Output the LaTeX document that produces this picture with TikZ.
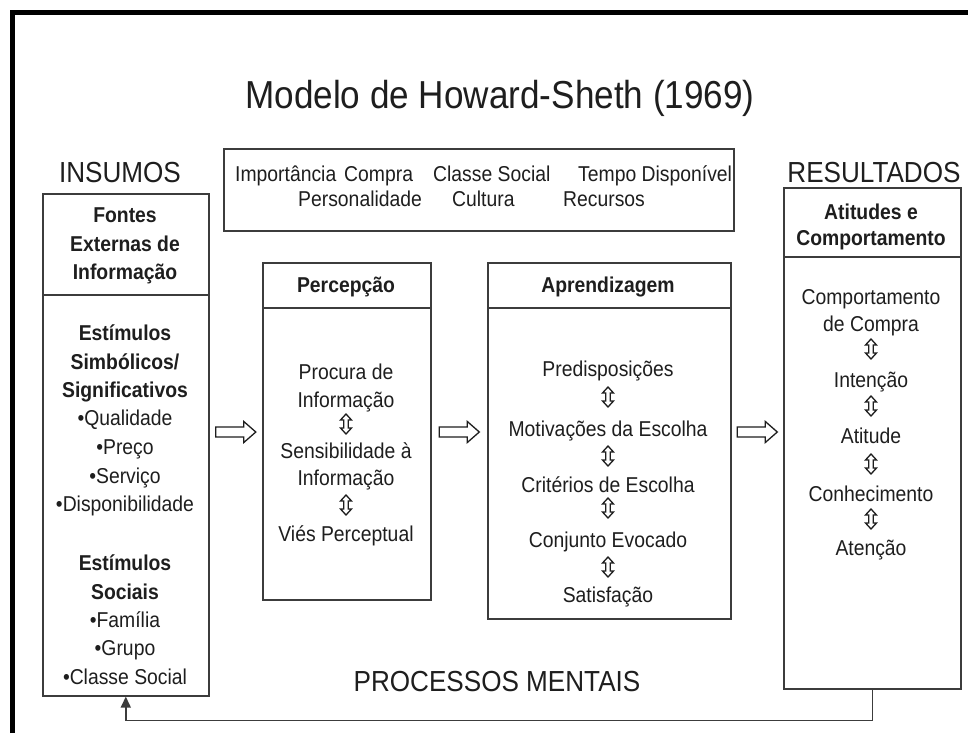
\documentclass[tikz,border=0pt]{standalone}
\usepackage{fontspec}
\setmainfont{Liberation Sans}[FakeStretch=0.9]
\usetikzlibrary{arrows.meta,calc}
\definecolor{ink}{HTML}{1E1E1E}
\definecolor{boxline}{HTML}{3C3C3C}
\begin{document}
\begin{tikzpicture}[x=1pt,y=-1pt,
  txt/.style={font=\fontsize{21.5}{21.5}\selectfont, text=ink, inner sep=0pt, anchor=mid, yshift=-4.5pt},
  txtb/.style={txt, font=\fontsize{21.5}{21.5}\selectfont\bfseries},
  lbl/.style={font=\fontsize{29}{29}\selectfont, text=ink, inner sep=0pt, anchor=mid, yshift=-7.5pt},
  ttl/.style={font=\fontsize{39}{39}\selectfont, text=ink, inner sep=0pt, anchor=mid, yshift=-9pt},
  panel/.style={draw=boxline, line width=1.6pt, anchor=north west, inner sep=0pt},
  divider/.style={draw=boxline, line width=1.6pt},
  hollow/.style={draw=ink, line width=1.3pt, fill=white, line join=miter},
  vdbl/.pic={\draw[hollow] (0,-10) -- (5.5,-4) -- (2.3,-4) -- (2.3,4) -- (5.5,4) -- (0,10) -- (-5.5,4) -- (-2.3,4) -- (-2.3,-4) -- (-5.5,-4) -- cycle;},
  hright/.pic={\draw[hollow] (-20,-5) -- (8,-5) -- (8,-10.5) -- (20,0) -- (8,10.5) -- (8,5) -- (-20,5) -- cycle;}
]
\useasboundingbox (0,0) rectangle (968,733);
\fill[white] (0,0) rectangle (968,733);
\draw[line width=5pt, black] (12,733) -- (12,13) -- (968,13);

% title and labels
\node[ttl] (title) at (500,97) {Modelo de Howard-Sheth (1969)};
\node[lbl] (insumoslbl) at (120,172) {INSUMOS};
\node[lbl] (resultlbl) at (874,172) {RESULTADOS};
\node[lbl] (procmental) at (497,681) {PROCESSOS MENTAIS};

% panels
\node[panel, minimum width=166, minimum height=502] (insumos) at (42,193) {};
\node[panel, minimum width=510, minimum height=82] (fatores) at (223,148) {};
\node[panel, minimum width=168, minimum height=337] (percep) at (262,262) {};
\node[panel, minimum width=243, minimum height=356] (aprend) at (487,262) {};
\node[panel, minimum width=177, minimum height=501] (result) at (783,187) {};

\draw[divider] (insumos.north west) ++(0,102) -- ++(166,0);
\draw[divider] (percep.north west) ++(0,46) -- ++(168,0);
\draw[divider] (aprend.north west) ++(0,46) -- ++(243,0);
\draw[divider] (result.north west) ++(0,70) -- ++(177,0);

% top factors box
\node[txt, anchor=mid west] (f1) at (235,174) {Importância};
\node[txt, anchor=mid west] (f1b) at (344,174) {Compra};
\node[txt, anchor=mid west] (f2) at (433,174) {Classe Social};
\node[txt, anchor=mid west] (f3) at (578,174) {Tempo Disponível};
\node[txt, anchor=mid west] (f4) at (298,199) {Personalidade};
\node[txt, anchor=mid west] (f5) at (452,199) {Cultura};
\node[txt, anchor=mid west] (f6) at (563,199) {Recursos};

% INSUMOS content
\node[txtb] (lh1) at (125,215) {Fontes};
\node[txtb] (lh2) at (125,244) {Externas de};
\node[txtb] (lh3) at (125,272) {Informação};
\node[txtb] (l1) at (125,333) {Estímulos};
\node[txtb] (l2) at (125,362) {Simbólicos/};
\node[txtb] (l3) at (125,390) {Significativos};
\node[txt] (l4) at (125,418) {•Qualidade};
\node[txt] (l5) at (125,447) {•Preço};
\node[txt] (l6) at (125,476) {•Serviço};
\node[txt] (l7) at (125,504) {•Disponibilidade};
\node[txtb] (l8) at (125,563) {Estímulos};
\node[txtb] (l9) at (125,592) {Sociais};
\node[txt] (l10) at (125,620) {•Família};
\node[txt] (l11) at (125,648) {•Grupo};
\node[txt] (l12) at (125,677) {•Classe Social};

% Percepcao
\node[txtb] (ph) at (346,285) {Percepção};
\node[txt] (p1) at (346,372) {Procura de};
\node[txt] (p2) at (346,400) {Informação};
\pic at (346,424) {vdbl};
\node[txt] (p3) at (346,451) {Sensibilidade à};
\node[txt] (p4) at (346,478) {Informação};
\pic at (346,505) {vdbl};
\node[txt] (p5) at (346,534) {Viés Perceptual};

% Aprendizagem
\node[txtb] (ah) at (608,285) {Aprendizagem};
\node[txt] (a1) at (608,369) {Predisposições};
\pic at (608,397) {vdbl};
\node[txt] (a2) at (608,429) {Motivações da Escolha};
\pic at (608,456) {vdbl};
\node[txt] (a3) at (608,485) {Critérios de Escolha};
\pic at (608,508) {vdbl};
\node[txt] (a4) at (608,540) {Conjunto Evocado};
\pic at (608,567) {vdbl};
\node[txt] (a5) at (608,595) {Satisfação};

% Resultados
\node[txtb] (rh1) at (871,212) {Atitudes e};
\node[txtb] (rh2) at (871,238) {Comportamento};
\node[txt] (r1) at (871,297) {Comportamento};
\node[txt] (r2) at (871,324) {de Compra};
\pic at (871,349) {vdbl};
\node[txt] (r3) at (871,380) {Intenção};
\pic at (871,406) {vdbl};
\node[txt] (r4) at (871,436) {Atitude};
\pic at (871,464) {vdbl};
\node[txt] (r5) at (871,494) {Conhecimento};
\pic at (871,519) {vdbl};
\node[txt] (r6) at (871,548) {Atenção};

% hollow arrows between panels
\coordinate (ha) at (0,432);
\pic at ($(insumos.east|-ha)!0.5!(percep.west|-ha)$) {hright};
\pic at ($(percep.east|-ha)!0.5!(aprend.west|-ha)$) {hright};
\pic at ($(aprend.east|-ha)!0.5!(result.west|-ha)$) {hright};

% feedback
\draw[boxline, line width=1.6pt, -{Triangle[length=11pt,width=10pt]}] (result.south) -- ++(0,31) -| (insumos.south);
\end{tikzpicture}
\end{document}
